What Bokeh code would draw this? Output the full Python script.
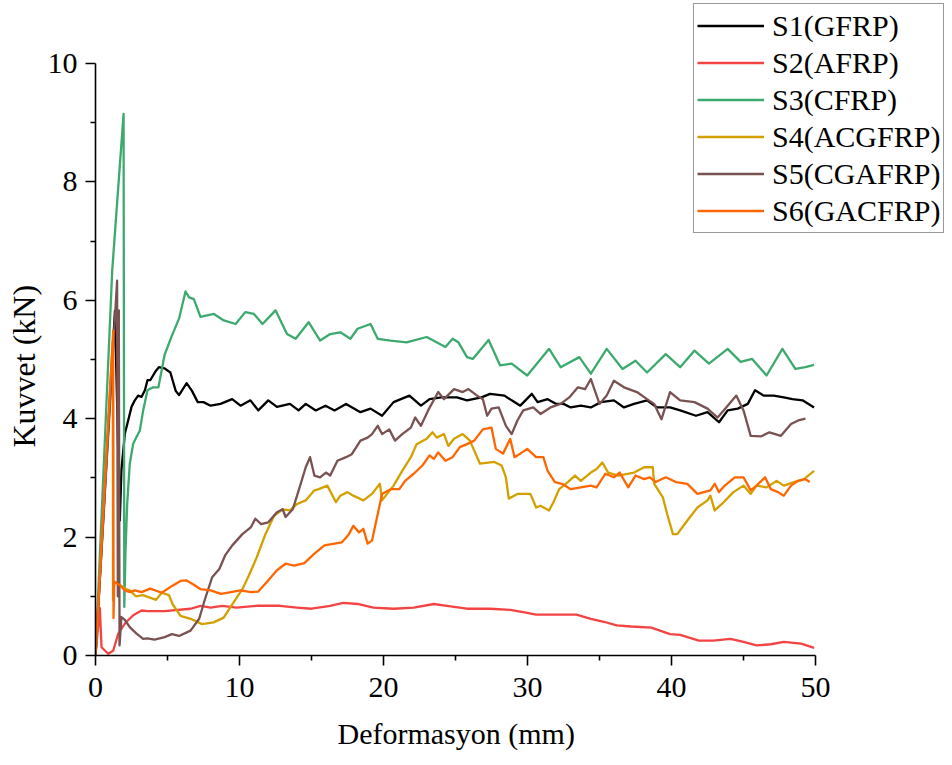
from bokeh.plotting import figure
from bokeh.models import Range1d, FixedTicker, Legend, LegendItem, Title
from bokeh.embed import file_html
from bokeh.resources import INLINE

# ---- data: (Deformasyon mm, Kuvvet kN) ----
s1_gfrp = [(0, 0), (1.35, 5.82), (1.69, 2.28), (1.8, 3.13), (2.04, 3.75), (2.27, 3.97), (2.5, 4.2),
           (2.73, 4.31), (2.96, 4.39), (3.2, 4.37), (3.43, 4.48), (3.61, 4.65), (3.8, 4.65), (4.17, 4.8),
           (4.4, 4.87), (4.8, 4.85), (5.2, 4.78), (5.57, 4.47), (5.8, 4.4), (6.33, 4.6), (6.7, 4.47),
           (7.1, 4.28), (7.5, 4.28), (7.99, 4.22), (8.68, 4.25), (9.49, 4.33), (10.07, 4.22), (10.76, 4.31),
           (11.3, 4.14), (12.0, 4.31), (12.6, 4.2), (13.5, 4.25), (14.1, 4.14), (14.6, 4.25), (15.3, 4.14),
           (15.97, 4.22), (16.6, 4.14), (17.4, 4.25), (18.4, 4.11), (19.1, 4.17), (19.9, 4.05), (20.7, 4.28),
           (21.8, 4.39), (22.6, 4.22), (23.2, 4.33), (24.0, 4.36), (25.1, 4.36), (25.8, 4.31), (26.8, 4.36),
           (27.4, 4.42), (28.4, 4.39), (28.9, 4.31), (29.5, 4.22), (30.3, 4.42), (30.7, 4.28), (31.4, 4.33),
           (32.0, 4.25), (32.5, 4.25), (33.0, 4.19), (33.7, 4.22), (34.4, 4.19), (35.1, 4.28), (36.0, 4.31),
           (36.7, 4.19), (37.4, 4.25), (38.3, 4.31), (39.0, 4.19), (39.9, 4.19), (40.6, 4.14), (41.7, 4.05),
           (42.5, 4.11), (43.3, 3.94), (43.9, 4.14), (44.6, 4.17), (45.3, 4.25), (45.8, 4.48), (46.4, 4.39),
           (47.1, 4.39), (47.8, 4.36), (48.4, 4.33), (49.1, 4.31), (49.9, 4.19)]

s2_afrp = [(0, 0), (0.3, 0.8), (0.42, 0.14), (0.88, 0.03), (1.23, 0.08), (1.58, 0.37), (2.04, 0.54),
           (2.62, 0.68), (3.2, 0.76), (3.61, 0.75), (4.8, 0.75), (6.6, 0.79), (7.3, 0.84), (7.99, 0.81),
           (8.8, 0.84), (9.8, 0.81), (11.2, 0.84), (12.8, 0.84), (14.0, 0.81), (15.0, 0.79), (16.3, 0.84),
           (17.2, 0.89), (18.2, 0.87), (19.3, 0.81), (20.7, 0.79), (22.1, 0.81), (23.5, 0.87), (24.4, 0.84),
           (25.8, 0.79), (27.4, 0.79), (28.8, 0.77), (29.8, 0.73), (30.6, 0.69), (32.1, 0.69), (33.4, 0.69),
           (34.4, 0.62), (35.3, 0.57), (36.2, 0.51), (37.2, 0.49), (38.6, 0.47), (39.9, 0.36), (40.6, 0.35),
           (41.9, 0.25), (42.9, 0.25), (44.1, 0.28), (45.0, 0.23), (45.9, 0.17), (46.9, 0.19), (47.8, 0.23),
           (49.0, 0.2), (49.9, 0.13)]

s3_cfrp = [(0, 0), (1.16, 6.5), (1.95, 9.15), (2.0, 0.82), (2.08, 1.72), (2.2, 2.56), (2.38, 3.24),
           (2.62, 3.58), (2.85, 3.69), (3.08, 3.8), (3.31, 4.14), (3.61, 4.48), (4.0, 4.53), (4.37, 4.53),
           (4.8, 5.08), (5.3, 5.4), (5.8, 5.69), (6.25, 6.15), (6.5, 6.05), (6.83, 6.02), (7.29, 5.72),
           (8.22, 5.77), (8.91, 5.66), (9.73, 5.6), (10.4, 5.8), (11.0, 5.77), (11.6, 5.6), (12.5, 5.83),
           (13.3, 5.43), (13.9, 5.35), (14.8, 5.63), (15.6, 5.32), (16.3, 5.43), (17.0, 5.46), (17.7, 5.35),
           (18.2, 5.52), (19.1, 5.6), (19.6, 5.35), (20.5, 5.32), (21.6, 5.29), (23.0, 5.38), (24.3, 5.21),
           (24.8, 5.35), (25.2, 5.29), (25.8, 5.04), (26.2, 5.01), (27.3, 5.33), (28.1, 4.9), (28.9, 4.93),
           (29.98, 4.73), (31.5, 5.18), (32.3, 4.87), (33.6, 5.04), (34.4, 4.76), (35.5, 5.18), (36.6, 4.84),
           (37.5, 4.98), (38.3, 4.78), (39.6, 5.09), (40.6, 4.87), (41.6, 5.15), (42.6, 4.93), (43.9, 5.18),
           (44.8, 4.96), (45.6, 5.01), (46.6, 4.73), (47.7, 5.18), (48.6, 4.84), (49.3, 4.87), (49.9, 4.91)]

s4_acgfrp = [(0, 0), (1.2, 5.3), (1.22, 0.93), (1.3, 1.25), (1.69, 1.19), (2.04, 1.13), (2.38, 1.1),
             (2.8, 1.0), (3.3, 1.02), (4.2, 0.94), (4.6, 1.06), (5.1, 1.02), (5.35, 0.87), (5.9, 0.67),
             (6.6, 0.62), (7.4, 0.53), (8.2, 0.56), (8.9, 0.64), (9.6, 0.9), (10.2, 1.12), (10.65, 1.35),
             (11.2, 1.66), (11.8, 2.05), (12.4, 2.36), (13.0, 2.47), (13.5, 2.45), (14.0, 2.56), (14.6, 2.62),
             (15.2, 2.79), (15.5, 2.81), (16.1, 2.87), (16.7, 2.59), (17.0, 2.7), (17.5, 2.76), (17.9, 2.7),
             (18.6, 2.62), (19.2, 2.73), (19.75, 2.9), (19.9, 2.62), (20.7, 2.87), (21.3, 3.12), (21.9, 3.35),
             (22.3, 3.57), (23.0, 3.66), (23.4, 3.77), (23.7, 3.68), (24.2, 3.74), (24.5, 3.54), (24.9, 3.66),
             (25.5, 3.74), (26.0, 3.63), (26.7, 3.24), (27.7, 3.27), (28.2, 3.21), (28.5, 3.01), (28.7, 2.65),
             (29.3, 2.73), (30.2, 2.73), (30.6, 2.5), (30.9, 2.53), (31.5, 2.45), (31.8, 2.59), (32.2, 2.81),
             (32.8, 2.93), (33.3, 3.04), (33.7, 2.95), (34.4, 3.09), (34.8, 3.15), (35.2, 3.26), (35.6, 3.09),
             (36.3, 3.04), (37.4, 3.09), (38.1, 3.18), (38.7, 3.18), (38.8, 2.9), (39.4, 2.67), (39.7, 2.39),
             (40.1, 2.05), (40.4, 2.05), (41.1, 2.28), (41.8, 2.5), (42.5, 2.62), (42.7, 2.7), (43.0, 2.45),
             (43.5, 2.56), (44.3, 2.76), (45.0, 2.87), (45.5, 2.73), (45.9, 2.87), (46.6, 2.84), (47.3, 2.95),
             (47.8, 2.87), (48.5, 2.93), (49.2, 2.98), (49.9, 3.12)]

s5_cgafrp = [(0, 0), (1.5, 6.33), (1.55, 1.0), (1.62, 5.83), (1.67, 0.17), (1.8, 0.65), (2.04, 0.6),
             (2.38, 0.48), (2.85, 0.37), (3.31, 0.28), (3.6, 0.29), (4.1, 0.27), (4.8, 0.31), (5.3, 0.36),
             (5.8, 0.33), (6.6, 0.42), (7.2, 0.62), (7.6, 0.95), (8.1, 1.32), (8.6, 1.46), (9.0, 1.69),
             (9.5, 1.86), (10.2, 2.05), (10.8, 2.17), (11.1, 2.31), (11.5, 2.22), (12.0, 2.25), (12.6, 2.42),
             (13.0, 2.47), (13.2, 2.34), (13.7, 2.47), (14.1, 2.78), (14.6, 3.18), (14.9, 3.35), (15.2, 3.04),
             (15.6, 3.01), (16.0, 3.09), (16.3, 3.04), (16.8, 3.29), (17.4, 3.35), (17.8, 3.4), (18.4, 3.63),
             (18.9, 3.68), (19.2, 3.74), (19.6, 3.88), (19.9, 3.74), (20.4, 3.82), (20.8, 3.63), (21.3, 3.74),
             (21.9, 3.85), (22.2, 4.02), (22.6, 3.88), (23.1, 4.14), (23.8, 4.45), (24.2, 4.33), (24.9, 4.5),
             (25.5, 4.45), (25.9, 4.5), (26.5, 4.39), (26.9, 4.33), (27.2, 4.05), (27.5, 4.17), (28.0, 4.19),
             (28.5, 3.88), (28.9, 3.74), (29.3, 3.97), (29.7, 4.14), (30.4, 4.19), (30.9, 4.08), (31.6, 4.19),
             (32.3, 4.25), (32.9, 4.36), (33.5, 4.53), (34.0, 4.5), (34.4, 4.67), (35.0, 4.25), (35.5, 4.39),
             (36.0, 4.64), (36.7, 4.53), (37.6, 4.45), (38.3, 4.33), (38.8, 4.25), (39.3, 3.99), (39.9, 4.45),
             (40.6, 4.31), (41.6, 4.28), (42.5, 4.17), (43.2, 4.02), (43.8, 4.19), (44.5, 4.39), (45.0, 4.14),
             (45.5, 3.71), (46.2, 3.7), (46.8, 3.77), (47.6, 3.71), (48.3, 3.91), (48.8, 3.97), (49.3, 4.0)]

s6_gacfrp = [(0, 0), (1.23, 5.49), (1.25, 0.63), (1.3, 1.24), (1.69, 1.19), (2.04, 1.1), (2.38, 1.07),
             (2.73, 1.1), (3.2, 1.07), (3.8, 1.13), (4.6, 1.06), (5.35, 1.18), (5.9, 1.26), (6.3, 1.27),
             (6.8, 1.2), (7.3, 1.12), (8.0, 1.1), (8.7, 1.04), (9.4, 1.07), (10.07, 1.1), (10.8, 1.07),
             (11.3, 1.08), (11.9, 1.24), (12.6, 1.44), (13.2, 1.55), (13.8, 1.52), (14.5, 1.56), (15.2, 1.72),
             (15.9, 1.86), (16.6, 1.89), (17.1, 1.91), (17.6, 2.05), (17.9, 2.19), (18.3, 2.08), (18.6, 2.14),
             (18.9, 1.89), (19.2, 1.94), (19.6, 2.39), (19.9, 2.73), (20.5, 2.81), (21.1, 2.81), (21.5, 2.95),
             (22.1, 3.07), (22.7, 3.21), (23.2, 3.38), (23.5, 3.32), (23.8, 3.43), (24.3, 3.29), (24.8, 3.35),
             (25.3, 3.52), (25.8, 3.57), (26.3, 3.63), (26.9, 3.82), (27.5, 3.85), (27.8, 3.49), (28.3, 3.41),
             (28.8, 3.66), (29.1, 3.35), (29.5, 3.41), (29.98, 3.49), (30.6, 3.35), (31.1, 3.35), (31.4, 3.12),
             (31.9, 2.93), (32.4, 2.9), (33.0, 2.81), (33.7, 2.84), (34.4, 2.87), (34.8, 2.84), (35.4, 3.07),
             (36.0, 3.01), (36.4, 3.09), (37.0, 2.84), (37.5, 3.04), (38.1, 2.98), (38.5, 3.01), (38.9, 2.93),
             (39.6, 3.01), (40.3, 2.93), (41.1, 2.9), (41.8, 2.73), (42.7, 2.79), (43.0, 2.9), (43.3, 2.76),
             (43.7, 2.87), (44.4, 3.01), (45.0, 3.01), (45.5, 2.79), (45.9, 2.87), (46.5, 3.01), (46.9, 2.81),
             (47.4, 2.76), (47.8, 2.7), (48.3, 2.87), (48.8, 2.95), (49.3, 2.98), (49.6, 2.93)]

series_names = ["S1(GFRP)", "S2(AFRP)", "S3(CFRP)", "S4(ACGFRP)", "S5(CGAFRP)", "S6(GACFRP)"]
series_data = [s1_gfrp, s2_afrp, s3_cfrp, s4_acgfrp, s5_cgafrp, s6_gacfrp]
series_colors = ["#000000", "#f44343", "#3caa6e", "#d4a000", "#7a5252", "#ff6600"]

x_ticks = [0, 10, 20, 30, 40, 50]
x_minor = [5, 15, 25, 35, 45]
y_ticks = [0, 2, 4, 6, 8, 10]
y_minor = [1, 3, 5, 7, 9]
x_axis_limits = (0, 50)
y_axis_limits = (0, 10)
x_label = "Deformasyon (mm)"
y_label = "Kuvvet (kN)"

FONT = "Liberation Serif"

# The frame reaches the right/top edges so the legend (outside the axes box) is not clipped;
# axis bounds keep the axis lines at 0-50 and 0-10.
LEFT, BOTTOM = 95, 110
FRAME_W = 952 - LEFT
FRAME_H = 765 - BOTTOM
PX_PER_MM = 720 / 50.0
PX_PER_KN = 592 / 10.0

p = figure(width=952, height=765, output_backend="svg", toolbar_location=None,
           x_range=Range1d(0, FRAME_W / PX_PER_MM), y_range=Range1d(0, FRAME_H / PX_PER_KN),
           min_border_left=LEFT, min_border_right=0, min_border_top=0, min_border_bottom=BOTTOM)
p.outline_line_color = None
p.xgrid.visible = False
p.ygrid.visible = False
p.background_fill_color = "white"
p.border_fill_color = "white"

p.xaxis.ticker = FixedTicker(ticks=x_ticks, minor_ticks=x_minor)
p.yaxis.ticker = FixedTicker(ticks=y_ticks, minor_ticks=y_minor)
p.xaxis.bounds = x_axis_limits
p.yaxis.bounds = y_axis_limits
for ax in (p.xaxis[0], p.yaxis[0]):
    ax.axis_line_width = 1.6
    ax.axis_line_color = "black"
    ax.major_tick_line_width = 1.6
    ax.minor_tick_line_width = 1.6
    ax.major_tick_out = 10
    ax.major_tick_in = 0
    ax.minor_tick_out = 5
    ax.minor_tick_in = 0
    ax.major_label_text_font = FONT
    ax.major_label_text_font_size = "30px"
    ax.major_label_text_color = "black"
p.xaxis[0].major_label_standoff = 12
p.yaxis[0].major_label_standoff = 8

# axis titles positioned along the 0-50 / 0-10 axis extent
xt = Title(text=x_label, align="left", offset=242, standoff=30,
           text_font=FONT, text_font_size="30px", text_font_style="normal", text_color="black")
p.add_layout(xt, "below")
yt = Title(text=y_label, align="left", offset=208, standoff=6,
           text_font=FONT, text_font_size="32px", text_font_style="normal", text_color="black")
p.add_layout(yt, "left")

items = []
for name, data, color in zip(series_names, series_data, series_colors):
    xs = [d[0] for d in data]
    ys = [d[1] for d in data]
    r = p.line(xs, ys, line_color=color, line_width=2.3, line_join="round")
    items.append(LegendItem(label=name, renderers=[r]))

legend = Legend(items=items, location=(598, 422))
legend.label_text_font = FONT
legend.label_text_font_size = "30px"
legend.label_text_color = "black"
legend.glyph_width = 67
legend.glyph_height = 37
legend.label_height = 37
legend.label_standoff = 8
legend.spacing = 0
legend.padding = 3
legend.margin = 0
legend.border_line_color = "#333333"
legend.border_line_width = 1.5
legend.background_fill_color = "white"
legend.background_fill_alpha = 1.0
p.add_layout(legend)

open("out.html", "w").write(file_html(p, INLINE))
